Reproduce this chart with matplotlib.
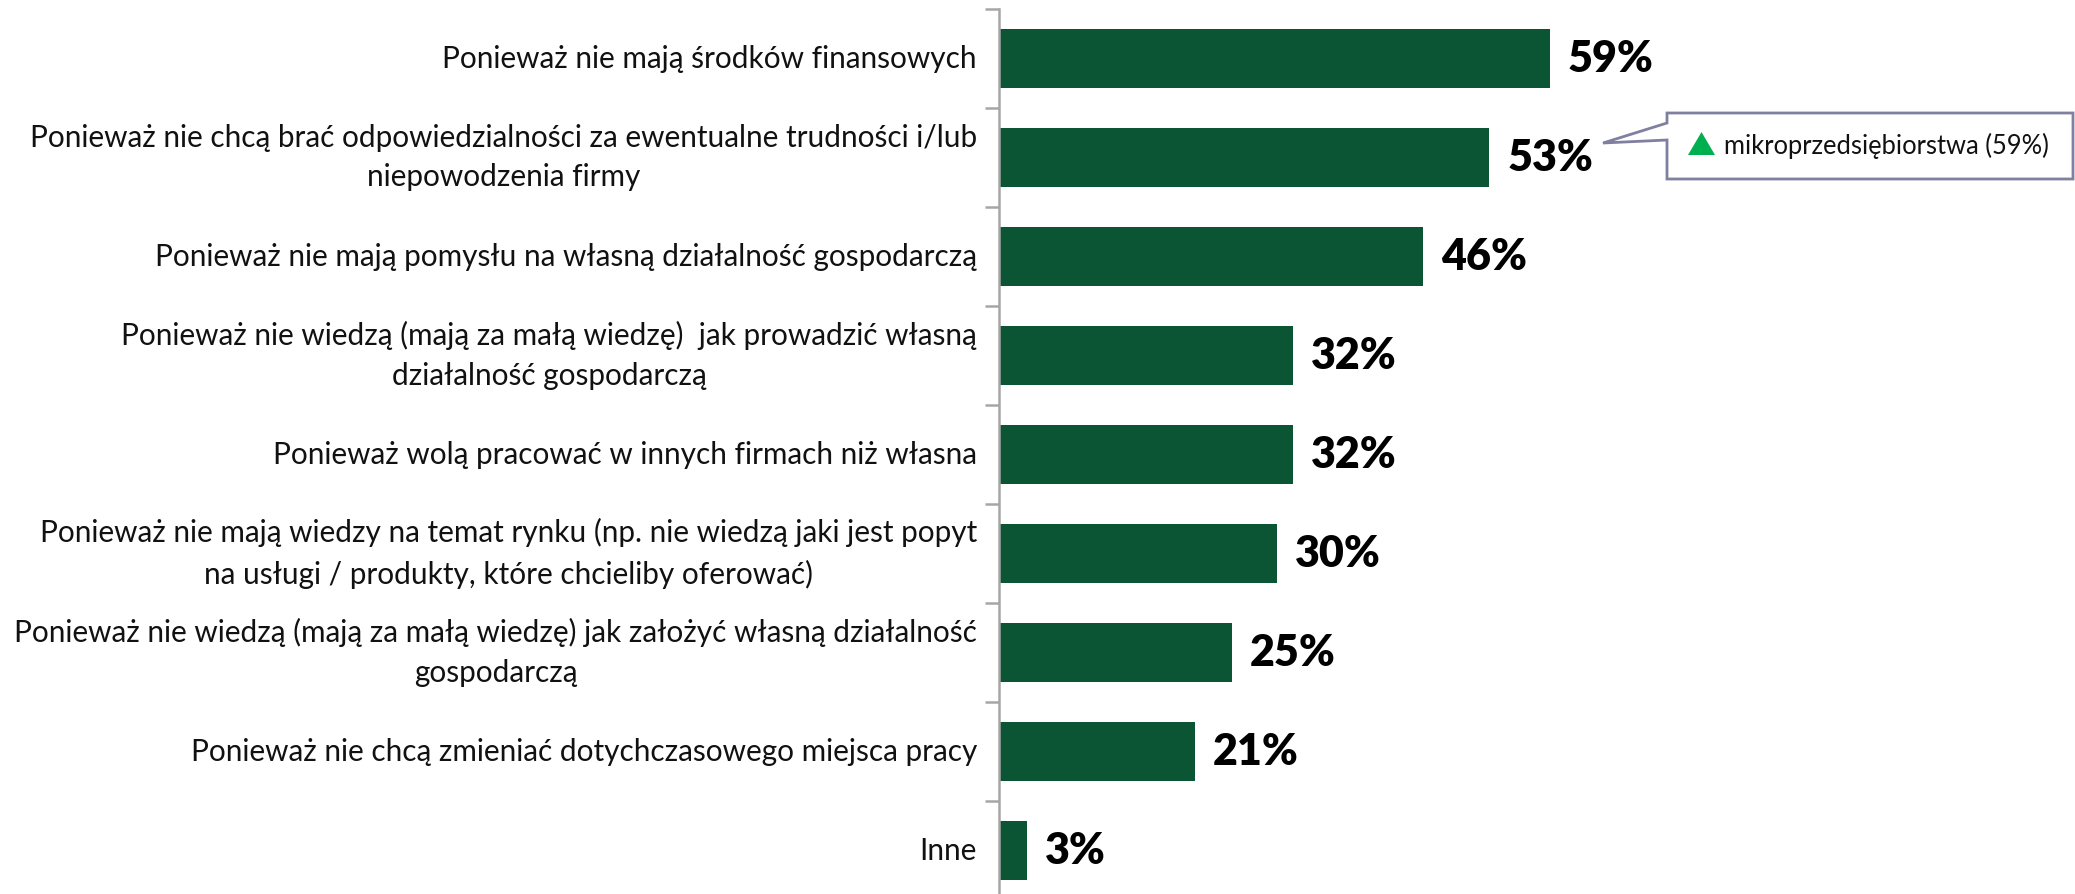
import matplotlib
matplotlib.use("Agg")
import matplotlib.pyplot as plt
from matplotlib.patches import Polygon
import numpy as np

categories = [
    "Ponieważ nie mają środków finansowych",
    "Ponieważ nie chcą brać odpowiedzialności za ewentualne trudności i/lub\nniepowodzenia firmy",
    "Ponieważ nie mają pomysłu na własną działalność gospodarczą",
    "Ponieważ nie wiedzą (mają za małą wiedzę)  jak prowadzić własną\ndziałalność gospodarczą",
    "Ponieważ wolą pracować w innych firmach niż własna",
    "Ponieważ nie mają wiedzy na temat rynku (np. nie wiedzą jaki jest popyt\nna usługi / produkty, które chcieliby oferować)",
    "Ponieważ nie wiedzą (mają za małą wiedzę) jak założyć własną działalność\ngospodarczą",
    "Ponieważ nie chcą zmieniać dotychczasowego miejsca pracy",
    "Inne",
]
values = [59.0, 52.5, 45.4, 31.5, 31.5, 29.8, 24.9, 21.0, 3.0]
value_labels = ["59%", "53%", "46%", "32%", "32%", "30%", "25%", "21%", "3%"]
callout_text = "mikroprzedsiębiorstwa (59%)"

W, H = 2075, 894
fig = plt.figure(figsize=(W / 100, H / 100), dpi=100)
ax = fig.add_axes([999 / W, 1 - 900 / H, 934 / W, 891 / H])

y = np.arange(len(categories))
ax.barh(y, values, height=0.6, color="#0B5535", zorder=2)
ax.set_xlim(0, 100)
ax.set_ylim(len(categories) - 0.5, -0.5)

for s in ["top", "right", "bottom"]:
    ax.spines[s].set_visible(False)
ax.spines["left"].set_color("#A6A6A6")
ax.spines["left"].set_linewidth(1.8)
ax.set_xticks([])
ax.set_yticks(np.arange(-0.5, len(categories), 1.0))
ax.set_yticklabels([])
ax.tick_params(axis="y", length=10, width=1.8, color="#A6A6A6", direction="out")

lab_font = "Lato"
for yi, c in zip(y, categories):
    ax.text(-22 / 9.34, yi, c, ha="right", va="center", multialignment="center",
            fontsize=21.4, family=lab_font, color="#111111", linespacing=1.5)

for yi, v, l in zip(y, values, value_labels):
    ax.text(v + 18 / 9.34, yi, l, ha="left", va="center", fontsize=31,
            fontweight="heavy", family=lab_font, color="black")

# callout
def fx(px):
    return px / W

def fy(py):
    return 1 - py / H

pts = [(1667, 113), (2073, 113), (2073, 179), (1667, 179), (1667, 140),
       (1603, 143), (1667, 123)]
poly = Polygon([(fx(a), fy(b)) for a, b in pts], closed=True, transform=fig.transFigure,
               facecolor="white", edgecolor="#7F7FA0", linewidth=2, zorder=5)
fig.patches.append(poly)
tri = [(1688, 155), (1715, 155), (1701.5, 132)]
fig.patches.append(Polygon([(fx(a), fy(b)) for a, b in tri], closed=True,
                           transform=fig.transFigure, facecolor="#00B050",
                           edgecolor="none", zorder=6))
fig.text(fx(1724), fy(146), callout_text, ha="left", va="center", fontsize=18.4,
         family=lab_font, color="#111111", zorder=7)

fig.savefig("out.png", dpi=100, facecolor="white")
